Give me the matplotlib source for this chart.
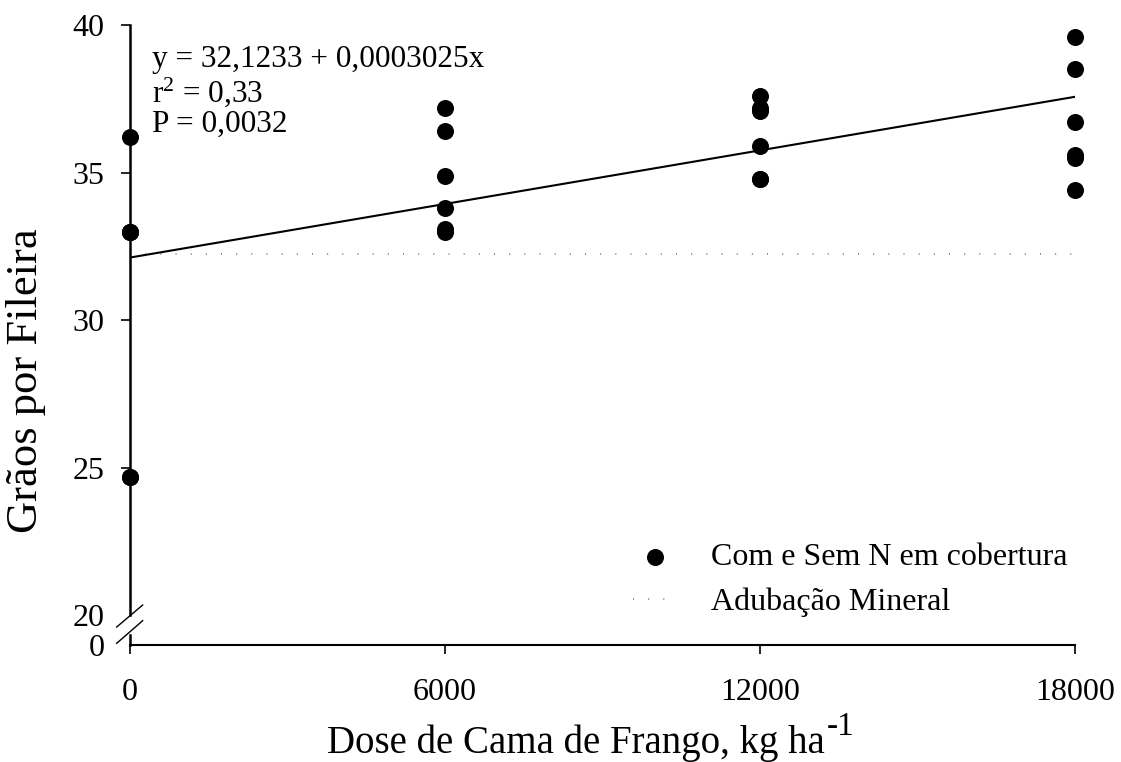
import matplotlib
matplotlib.use("Agg")
import matplotlib.pyplot as plt
import numpy as np

# ---- data ----
dose = [0, 0, 0, 0, 0, 0,
        6000, 6000, 6000, 6000, 6000, 6000,
        12000, 12000, 12000, 12000, 12000, 12000,
        18000, 18000, 18000, 18000, 18000, 18000]
graos = [36.2, 33.0, 33.0, 33.0, 24.7, 24.7,
         37.2, 36.4, 34.9, 33.8, 33.1, 33.0,
         37.6, 37.2, 37.1, 35.9, 34.8, 34.8,
         39.6, 38.5, 36.7, 35.6, 35.5, 34.4]
intercept = 32.1233
slope = 0.0003025
mineral = 32.25
xticks = [0, 6000, 12000, 18000]
xticklabels = ["0", "6000", "12000", "18000"]
yticks = [19, 20, 25, 30, 35, 40]
yticklabels = ["0", "20", "25", "30", "35", "40"]
eq_text = "y = 32,1233 + 0,0003025x\nr$^2$ = 0,33\nP = 0,0032"

plt.rcParams["font.family"] = ["Liberation Serif", "DejaVu Serif"]
plt.rcParams["mathtext.fontset"] = "custom"
plt.rcParams["mathtext.rm"] = "Liberation Serif"
plt.rcParams["mathtext.it"] = "Liberation Serif:italic"
plt.rcParams["mathtext.bf"] = "Liberation Serif:bold"

fig = plt.figure(figsize=(11.21, 7.62), dpi=100)
ax = fig.add_axes([130/1121, 1-645/762, 945/1121, 620/762])

ax.scatter(dose, graos, s=150, color="black", zorder=3, clip_on=False,
           label="Com e Sem N em cobertura", linewidths=0)
lx = np.array([0, 18000])
ax.plot(lx, intercept + slope*lx, color="black", lw=1.5, zorder=2)
ax.plot([0, 18000], [mineral, mineral], color="#777777", lw=1.2,
        linestyle=(0, (0.6, 8.5)), label="Adubação Mineral", zorder=1)

ax.set_xlim(0, 18000)
ax.set_ylim(19, 40)
ax.set_xticks(xticks)
ax.set_xticklabels(xticklabels)
ax.set_yticks(yticks)
ax.set_yticklabels(yticklabels)
ax.tick_params(direction="out", length=6.5, width=1.2, labelsize=23)
ax.tick_params(axis="y", pad=12)
ax.tick_params(axis="x", pad=17)
for i in (0, 1):
    ax.yaxis.get_major_ticks()[i].tick1line.set_visible(False)

for s in ("top", "right", "left"):
    ax.spines[s].set_visible(False)
ax.spines["bottom"].set_linewidth(1.5)

# broken left axis
yt = ax.get_yaxis_transform()
ax.plot([0, 0], [20, 40], color="black", lw=1.8, transform=yt, clip_on=False)
ax.plot([0, 0], [19, 19.33], color="black", lw=1.8, transform=yt, clip_on=False)
ax.plot([-0.0141, 0.0134], [0.029, 0.0645], color="black", lw=1.0,
        transform=ax.transAxes, clip_on=False)
ax.plot([-0.0141, 0.0134], [0.0027, 0.0392], color="black", lw=1.0,
        transform=ax.transAxes, clip_on=False)

ax.text(152/1121, 1-45/762, eq_text, transform=fig.transFigure, fontsize=22.5,
        va="top", ha="left", linespacing=1.05)

ax.set_ylabel("Grãos por Fileira", fontsize=32)
ax.yaxis.set_label_coords(-0.089, 0.426)
ax.set_xlabel("Dose de Cama de Frango, kg ha", fontsize=28)
ax.xaxis.set_label_coords(0.472, -0.128)
ax.annotate("-1", xy=(1.0, 1.0), xycoords=ax.xaxis.label,
            xytext=(1.5, -2), textcoords="offset points",
            ha="left", va="center", fontsize=24)

leg = ax.legend(loc="upper left", bbox_to_anchor=(633/1121, 1-543/762),
                bbox_transform=fig.transFigure, frameon=False,
                fontsize=23, handlelength=1.35, handletextpad=1.1,
                labelspacing=0.48, borderpad=0, borderaxespad=0)

fig.savefig("out.png", dpi=100)
